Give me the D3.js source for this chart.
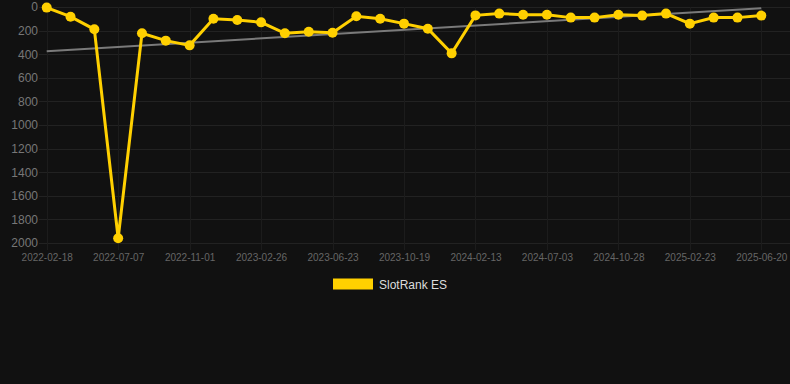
<!DOCTYPE html>
<html>
<head>
<meta charset="utf-8">
<script src="https://cdn.jsdelivr.net/npm/d3@7"></script>
<style>
html,body{margin:0;padding:0;background:#111111;}
svg{display:block;}
text{font-family:"Liberation Sans",Arial,Helvetica,sans-serif;}
</style>
</head>
<body>
<div id="chart"></div>
<script>
const dates = [
  "2022-02-18","2022-04-05","2022-05-21","2022-07-07","2022-08-15","2022-09-23",
  "2022-11-01","2022-12-10","2023-01-18","2023-02-26","2023-04-05","2023-05-14",
  "2023-06-23","2023-08-01","2023-09-09","2023-10-19","2023-11-27","2024-01-05",
  "2024-02-13","2024-03-30","2024-05-17","2024-07-03","2024-08-11","2024-09-19",
  "2024-10-28","2024-12-06","2025-01-14","2025-02-23","2025-04-02","2025-05-11",
  "2025-06-20"
];
const ranks = [
  5, 82, 189, 1960, 223, 285, 325, 99, 110, 130, 223, 209, 218, 79, 99, 141,
  184, 393, 71, 56, 65, 65, 90, 90, 65, 73, 56, 141, 90, 90, 73
];
const yTicks = [0,200,400,600,800,1000,1200,1400,1600,1800,2000];
const seriesName = "SlotRank ES";

const W = 790, H = 384;
const gold = "#ffd000";
const svg = d3.select("#chart").append("svg").attr("width", W).attr("height", H);
svg.append("rect").attr("width", W).attr("height", H).attr("fill", "#111111");

const x = d3.scalePoint().domain(d3.range(dates.length)).range([46.7, 761.3]);
const y = d3.scaleLinear().domain([0, 2000]).range([7, 243]);

// horizontal grid
svg.append("g").selectAll("line").data(yTicks).join("line")
  .attr("x1", 39).attr("x2", W)
  .attr("y1", d => Math.round(y(d)) + 0.5).attr("y2", d => Math.round(y(d)) + 0.5)
  .attr("stroke", "#222222").attr("stroke-width", 1);

// vertical grid at labelled ticks
const labelled = d3.range(dates.length).filter(i => i % 3 === 0);
svg.append("g").selectAll("line").data(labelled).join("line")
  .attr("x1", d => Math.round(x(d)) + 0.5).attr("x2", d => Math.round(x(d)) + 0.5)
  .attr("y1", y(0)).attr("y2", y(2000) + 7)
  .attr("stroke", "#1c1c1c").attr("stroke-width", 1);

// y axis
const yAxis = d3.axisLeft(y).tickValues(yTicks).tickFormat(d3.format("d")).tickSize(0).tickPadding(0);
const gy = svg.append("g").attr("transform", "translate(38,0)").call(yAxis);
gy.select(".domain").remove();
gy.selectAll("text").attr("fill", "#777").attr("font-size", 12)
  .attr("font-family", "Liberation Sans, Arial, sans-serif");

// x axis
const xAxis = d3.axisBottom(x).tickValues(labelled).tickFormat(i => dates[i]).tickSize(0).tickPadding(0);
const gx = svg.append("g").attr("transform", "translate(0,254)").call(xAxis);
gx.select(".domain").remove();
gx.selectAll("text").attr("fill", "#666").attr("font-size", 10).attr("dy", "0.71em")
  .attr("font-family", "Liberation Sans, Arial, sans-serif");

// trend line (least squares)
const n = ranks.length;
const mx = d3.mean(d3.range(n)), my = d3.mean(ranks);
let sxy = 0, sxx = 0;
ranks.forEach((v, i) => { sxy += (i - mx) * (v - my); sxx += (i - mx) * (i - mx); });
const slope = sxy / sxx, icpt = my - slope * mx;
svg.append("line")
  .attr("x1", x(0)).attr("y1", y(icpt))
  .attr("x2", x(n - 1)).attr("y2", y(icpt + slope * (n - 1)))
  .attr("stroke", "#7a7a7a").attr("stroke-width", 2);

// main line
const line = d3.line().x((d, i) => x(i)).y(d => y(d));
svg.append("path").datum(ranks).attr("d", line)
  .attr("fill", "none").attr("stroke", gold).attr("stroke-width", 3)
  .attr("stroke-linejoin", "miter");

svg.append("g").selectAll("circle").data(ranks).join("circle")
  .attr("cx", (d, i) => x(i)).attr("cy", d => y(d)).attr("r", 5)
  .attr("fill", gold);

// legend
svg.append("rect").attr("x", 333).attr("y", 278.5).attr("width", 40).attr("height", 11).attr("fill", gold);
svg.append("text").attr("x", 379).attr("y", 288.5).text(seriesName)
  .attr("fill", "#dddddd").attr("font-size", 12);
</script>
</body>
</html>
